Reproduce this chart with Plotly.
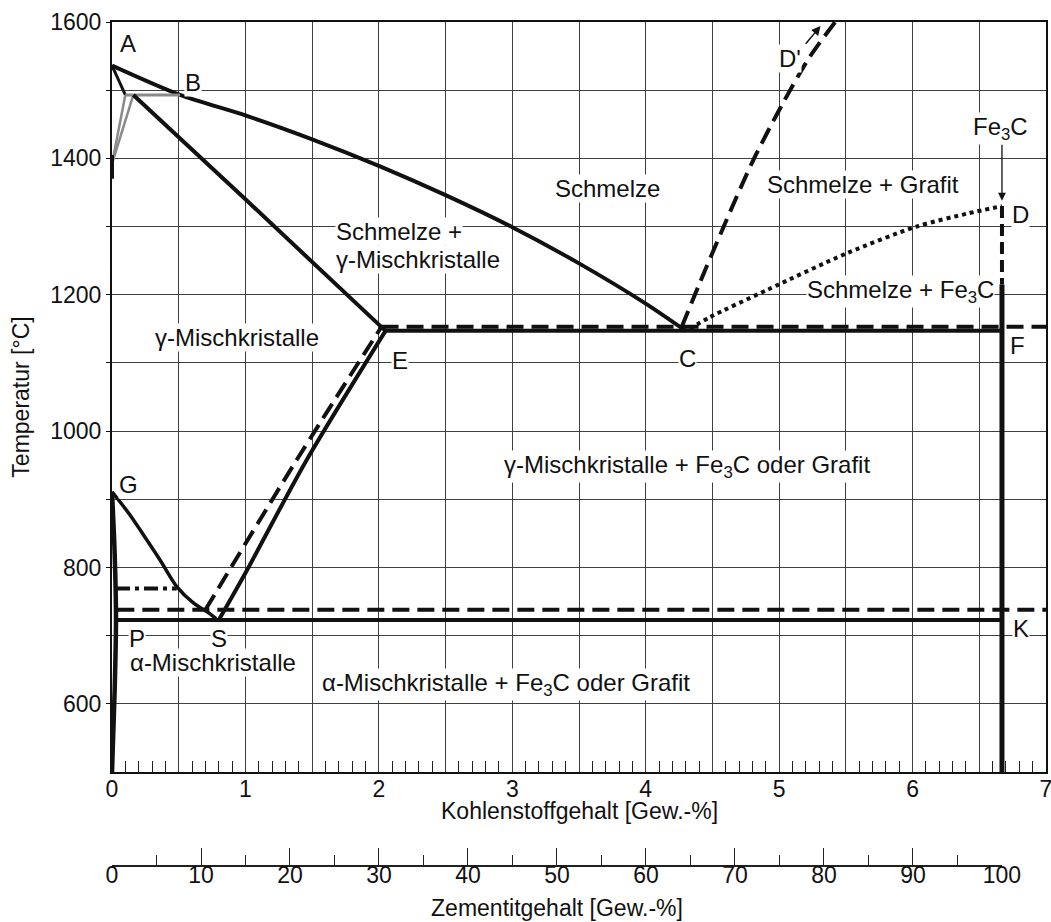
import plotly.graph_objects as go

# ---- Eisen-Kohlenstoff-Diagramm: Linienzüge (C in Gew.-%, Temperatur in °C) ----
# Liquidus A-B-C
liq_x = [0.0, 0.51, 1.0, 1.5, 2.0, 2.5, 3.0, 3.5, 4.0, 4.3]
liq_t = [1536, 1493, 1463, 1428, 1389, 1346, 1299, 1246, 1187, 1147]
# delta-Solidus A-H
dsol_x = [0.0, 0.10]
dsol_t = [1536, 1493]
# Peritektikale H-B
peri_x = [0.10, 0.51]
peri_t = [1493, 1493]
# gamma-Solidus J-E
gsol_x = [0.16, 1.0, 2.05]
gsol_t = [1493, 1340, 1147]
# delta/gamma-Grenzen H-N und J-N
hn_x = [0.10, 0.0]
hn_t = [1493, 1392]
jn_x = [0.16, 0.0]
jn_t = [1493, 1392]
n_x = [0.0, 0.0]
n_t = [1405, 1370]
# Eutektikale E-C-F (metastabil) und stabil
ecf_x = [2.05, 6.67]
ecf_t = [1147, 1147]
ecf_st_x = [2.02, 7.0]
ecf_st_t = [1153, 1153]
# Grafit-Liquidus C'-D'
cd_st_x = [4.27, 4.40, 4.60, 4.80, 5.02, 5.22, 5.42]
cd_st_t = [1153, 1215, 1307, 1395, 1478, 1546, 1600]
# Zementit-Liquidus C-D
cd_x = [4.33, 4.48, 4.91, 5.51, 6.03, 6.41, 6.67]
cd_t = [1150, 1167, 1207, 1261, 1300, 1319, 1330]
# Zementit-Senkrechte D-F-K
fe3c_dash_x = [6.67, 6.67]
fe3c_dash_t = [1330, 1215]
fe3c_x = [6.67, 6.67]
fe3c_t = [1215, 500]
# S-E (metastabil) und S'-E' (stabil)
se_x = [0.80, 1.0, 1.46, 2.05]
se_t = [723, 792, 958, 1147]
se_st_x = [0.70, 1.385, 2.02]
se_st_t = [738, 958, 1153]
# G-S
gs_x = [0.0, 0.135, 0.235, 0.36, 0.485, 0.61, 0.735, 0.78]
gs_t = [911, 877, 848, 811, 772, 748, 732, 725]
# G-P-Q
gpq_x = [0.0, 0.02, 0.03, 0.02, 0.0]
gpq_t = [911, 820, 723, 620, 500]
# Curie-Linie (A2)
a2_x = [0.03, 0.485]
a2_t = [769, 769]
# Eutektoide: stabil (gestrichelt) und P-S-K
a1_st_x = [0.04, 7.0]
a1_st_t = [738, 738]
psk_x = [0.03, 6.67]
psk_t = [723, 723]

# Achsenbeschriftungen
c_ticks = [0, 1, 2, 3, 4, 5, 6, 7]
t_ticks = [600, 800, 1000, 1200, 1400, 1600]
zem_ticks = [0, 10, 20, 30, 40, 50, 60, 70, 80, 90, 100]

FONT = "Liberation Sans, Arial, sans-serif"
INK = "#111111"
LW = 4
DASH = "17px,8px"
LABEL_SIZE = 24
TICK_SIZE = 23

fig = go.Figure()


def line(x, y, color=INK, width=LW, dash="solid", smooth=False):
    fig.add_trace(go.Scatter(
        x=x, y=y, mode="lines", hoverinfo="skip",
        line=dict(color=color, width=width, dash=dash,
                  shape="spline" if smooth else "linear",
                  smoothing=0.8 if smooth else None)))


line(liq_x, liq_t, smooth=True)
line(dsol_x, dsol_t, width=3)
line(peri_x, peri_t, color="#8a8a8a", width=3)
line(hn_x, hn_t, color="#8a8a8a", width=2.5)
line(jn_x, jn_t, color="#8a8a8a", width=2.5)
line(n_x, n_t, width=4)
line(gsol_x, gsol_t, smooth=True)
line(ecf_x, ecf_t)
line(ecf_st_x, ecf_st_t, dash=DASH)
line(cd_st_x, cd_st_t, dash=DASH, smooth=True)
line(cd_x, cd_t, dash="4px,4px", smooth=True)
line(fe3c_dash_x, fe3c_dash_t, dash="12px,6px")
line(fe3c_x, fe3c_t, width=5)
line(se_x, se_t, smooth=True)
line(se_st_x, se_st_t, dash=DASH, smooth=True)
line(gs_x, gs_t, width=3.5, smooth=True)
line(gpq_x, gpq_t, width=4.5, smooth=True)
line(a2_x, a2_t, dash="14px,5px,4px,5px")
line(a1_st_x, a1_st_t, dash=DASH)
line(psk_x, psk_t)

# Hilfsspur für die Zementit-Skala (eigener, sehr flacher Bereich unten)
fig.add_trace(go.Scatter(x=[0, 100], y=[None, None], xaxis="x2", yaxis="y2",
                         mode="lines", hoverinfo="skip", showlegend=False))

labels = [
    (0.12, 1568, "A"),
    (0.61, 1512, "B"),
    (3.71, 1356, "Schmelze"),
    (0.94, 1138, "γ-Mischkristalle"),
    (2.16, 1104, "E"),
    (4.31, 1107, "C"),
    (6.79, 1126, "F"),
    (6.81, 1317, "D"),
    (5.08, 1547, "D'"),
    (6.66, 1444, "Fe<sub>3</sub>C"),
    (5.63, 1361, "Schmelze + Grafit"),
    (5.91, 1205, "Schmelze + Fe<sub>3</sub>C"),
    (4.31, 948, "γ-Mischkristalle + Fe<sub>3</sub>C oder Grafit"),
    (0.12, 921, "G"),
    (0.185, 696, "P"),
    (0.80, 696, "S"),
    (0.76, 661, "α-Mischkristalle"),
    (2.95, 628, "α-Mischkristalle + Fe<sub>3</sub>C oder Grafit"),
    (6.81, 711, "K"),
]

annotations = []
for x, y, txt in labels:
    annotations.append(dict(x=x, y=y, xref="x", yref="y", text=txt, showarrow=False,
                            font=dict(family=FONT, size=LABEL_SIZE, color=INK),
                            bgcolor="white", borderpad=0))
# zweizeiliges Feld "Schmelze + γ-Mischkristalle", linksbündig
for y, txt in [(1293, "Schmelze +"), (1251, "γ-Mischkristalle")]:
    annotations.append(dict(x=1.67, y=y, xref="x", yref="y", xanchor="left",
                            text=txt, showarrow=False, bgcolor="white", borderpad=0,
                            font=dict(family=FONT, size=LABEL_SIZE, color=INK)))
# Titel der Kohlenstoff-Achse
annotations.append(dict(x=0.5, y=0.064, xref="paper", yref="paper",
                        text="Kohlenstoffgehalt [Gew.-%]", showarrow=False,
                        xanchor="center", yanchor="middle",
                        font=dict(family=FONT, size=TICK_SIZE, color=INK)))
# Pfeile an Fe3C und D'
annotations.append(dict(x=6.67, y=1338, ax=6.67, ay=1422, xref="x", yref="y",
                        axref="x", ayref="y", text="", showarrow=True,
                        arrowhead=2, arrowsize=1.2, arrowwidth=1.3, arrowcolor=INK))
annotations.append(dict(x=5.31, y=1594, ax=5.19, ay=1566, xref="x", yref="y",
                        axref="x", ayref="y", text="", showarrow=True,
                        arrowhead=2, arrowsize=1.2, arrowwidth=1.5, arrowcolor=INK))

halves = [i * 0.5 for i in range(15)]
minor_c = [round(i * 0.1, 1) for i in range(71) if i % 5 != 0]
hundreds = list(range(600, 1601, 100))

fig.update_layout(
    width=1051, height=922,
    margin=dict(l=112, r=5, t=22, b=57, autoexpand=False),
    paper_bgcolor="white", plot_bgcolor="white",
    showlegend=False,
    font=dict(family=FONT, size=TICK_SIZE, color=INK),
    annotations=annotations,
    xaxis=dict(
        range=[0, 7], domain=[0, 1], anchor="y", automargin=False,
        tickmode="array", tickvals=halves,
        ticktext=[str(int(v)) if v in c_ticks else "" for v in halves],
        ticks="", showgrid=True, gridcolor="#404040", gridwidth=1,
        zeroline=False, showline=True, linecolor=INK, linewidth=2, mirror=True,
        tickfont=dict(size=TICK_SIZE, color=INK), ticklabelstandoff=-5,
        ticklabeloverflow="allow",
        minor=dict(tickmode="array", tickvals=minor_c, ticks="inside",
                   ticklen=11, tickwidth=1.2, tickcolor="#222", showgrid=False),
    ),
    yaxis=dict(
        range=[500, 1600], domain=[0.1103, 1], anchor="x", automargin=False,
        tickmode="array", tickvals=hundreds,
        ticktext=[str(v) if v in t_ticks else "" for v in hundreds],
        ticks="outside", ticklen=4, tickcolor=INK,
        showgrid=True, gridcolor="#404040", gridwidth=1,
        zeroline=False, showline=True, linecolor=INK, linewidth=2, mirror=True,
        tickfont=dict(size=TICK_SIZE, color=INK), ticklabeloverflow="allow",
        title=dict(text="Temperatur [°C]", standoff=14,
                   font=dict(size=TICK_SIZE, color=INK)),
    ),
    xaxis2=dict(
        range=[0, 100], domain=[0, 6.67 / 7], anchor="y2", automargin=False,
        tickmode="array", tickvals=zem_ticks, ticks="inside", ticklen=17,
        tickwidth=1.3, tickcolor="#222",
        minor=dict(tickmode="array", tickvals=[5, 15, 25, 35, 45, 55, 65, 75, 85, 95],
                   ticks="inside", ticklen=10, tickwidth=1.2, tickcolor="#222",
                   showgrid=False),
        showgrid=False, zeroline=False, showline=True, linecolor="#222", linewidth=1.5,
        tickfont=dict(size=TICK_SIZE, color=INK), ticklabelstandoff=-11,
        ticklabeloverflow="allow",
        title=dict(text="Zementitgehalt [Gew.-%]", standoff=13,
                   font=dict(size=TICK_SIZE, color=INK)),
    ),
    yaxis2=dict(domain=[0, 0.004], anchor="x2", visible=False, range=[0, 1]),
)

fig.write_html("out.html")
